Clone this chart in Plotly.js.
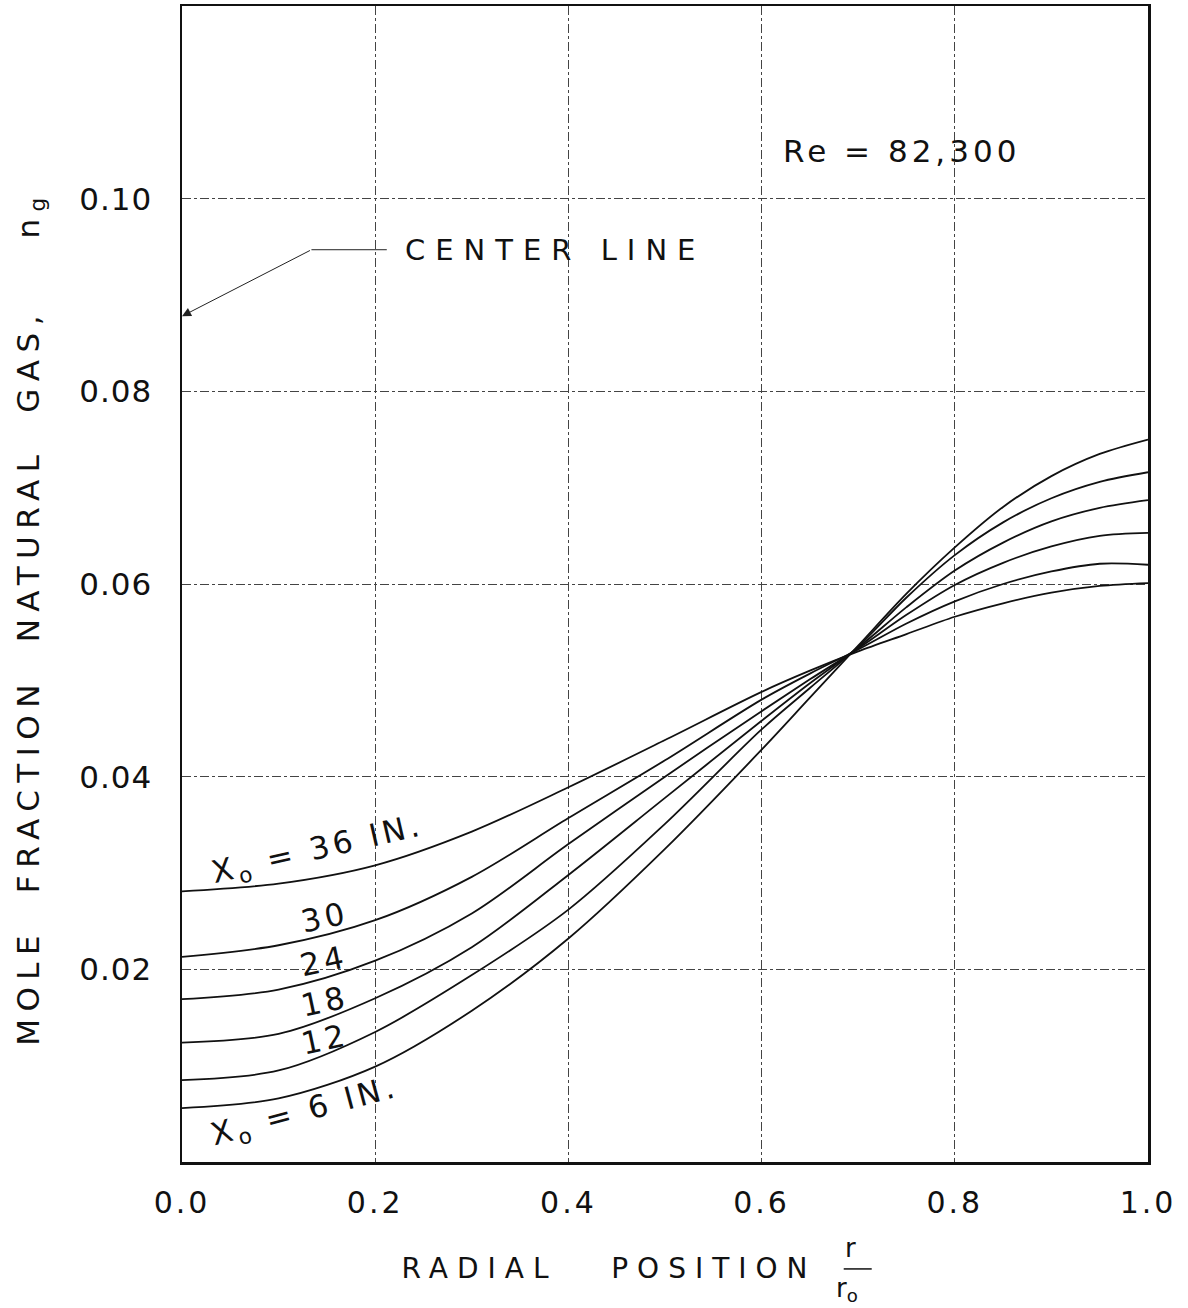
<!DOCTYPE html>
<html>
<head>
<meta charset="utf-8">
<script src="https://cdn.plot.ly/plotly-3.0.1.min.js"></script>
<style>
  html, body { margin: 0; padding: 0; background: #fff; }
  #chart { width: 1188px; height: 1308px; }
  .xtick text { letter-spacing: 3px; }
  .ytick text { letter-spacing: 1px; }
  g.g-xtitle { transform: translate(-56px, 0px); }
  g.g-ytitle { transform: translate(17px, 34px); }
</style>
</head>
<body>
<div id="chart"></div>
<script>
// Radial position r/r0
const radialPos = [0, 0.1, 0.2, 0.3, 0.4, 0.5, 0.6, 0.65, 0.7, 0.75, 0.8, 0.85, 0.9, 0.95, 1.0];
// Mole fraction natural gas for each downstream distance X0
const x0_36 = [0.0281, 0.0289, 0.0308, 0.0343, 0.0389, 0.0438, 0.0488, 0.0510, 0.0530, 0.0548, 0.0566, 0.0580, 0.0591, 0.0598, 0.0601];
const x0_30 = [0.0213, 0.0225, 0.0251, 0.0296, 0.0357, 0.0417, 0.0480, 0.0507, 0.0532, 0.0559, 0.0582, 0.0600, 0.0613, 0.0621, 0.0620];
const x0_24 = [0.0169, 0.0179, 0.0209, 0.0258, 0.0330, 0.0400, 0.0468, 0.0501, 0.0533, 0.0568, 0.0599, 0.0622, 0.0639, 0.0650, 0.0653];
const x0_18 = [0.0124, 0.0133, 0.0170, 0.0223, 0.0298, 0.0378, 0.0458, 0.0497, 0.0534, 0.0576, 0.0614, 0.0643, 0.0665, 0.0679, 0.0687];
const x0_12 = [0.0085, 0.0095, 0.0135, 0.0194, 0.0262, 0.0351, 0.0449, 0.0492, 0.0535, 0.0586, 0.0630, 0.0664, 0.0689, 0.0706, 0.0716];
const x0_6  = [0.0056, 0.0066, 0.0099, 0.0157, 0.0232, 0.0325, 0.0428, 0.0482, 0.0536, 0.0590, 0.0638, 0.0680, 0.0712, 0.0735, 0.0750];

const seriesList = [x0_36, x0_30, x0_24, x0_18, x0_12, x0_6];
const seriesNames = ['X0 = 36 in', 'X0 = 30 in', 'X0 = 24 in', 'X0 = 18 in', 'X0 = 12 in', 'X0 = 6 in'];

const xTickVals = [0, 0.2, 0.4, 0.6, 0.8, 1.0];
const xTickText = ['0.0', '0.2', '0.4', '0.6', '0.8', '1.0'];
const yTickVals = [0.02, 0.04, 0.06, 0.08, 0.10];
const yTickText = ['0.02', '0.04', '0.06', '0.08', '0.10'];

const FONT = 'DejaVu Sans, Liberation Sans, sans-serif';
const NB = '\u00A0';

const traces = seriesList.map((ys, i) => ({
  x: radialPos,
  y: ys,
  name: seriesNames[i],
  mode: 'lines',
  line: { shape: 'spline', smoothing: 0.9, color: '#111', width: 1.8 },
  showlegend: false,
  hoverinfo: 'x+y+name'
}));

const ls = (t, s) => '<span style="letter-spacing:' + s + 'px">' + t + '</span>';
const lblFont = { family: FONT, size: 31, color: '#111' };

const annotations = [
  { xref: 'x', yref: 'y', x: 0.745, y: 0.1049, text: ls('Re = 82,300', 4), showarrow: false,
    font: { family: FONT, size: 31, color: '#111' } },
  { xref: 'x', yref: 'y', x: 0.386, y: 0.0947, text: ls('CENTER' + NB + 'LINE', 10), showarrow: false,
    font: { family: FONT, size: 29, color: '#111' } },
  { xref: 'x', yref: 'y', x: 0.0, y: 0.0878, ax: 0.134, ay: 0.0947, axref: 'x', ayref: 'y',
    text: '', showarrow: true, arrowhead: 2, arrowsize: 1.8, arrowwidth: 1, arrowcolor: '#222' },
  { xref: 'x', yref: 'y', x: 0.141, y: 0.0323, text: ls('X<sub>o</sub> = 36 IN.', 4), showarrow: false, textangle: -13,
    font: lblFont },
  { xref: 'x', yref: 'y', x: 0.148, y: 0.0254, text: ls('30', 4), showarrow: false, textangle: -12, font: lblFont },
  { xref: 'x', yref: 'y', x: 0.146, y: 0.0209, text: ls('24', 4), showarrow: false, textangle: -12, font: lblFont },
  { xref: 'x', yref: 'y', x: 0.148, y: 0.0167, text: ls('18', 4), showarrow: false, textangle: -12, font: lblFont },
  { xref: 'x', yref: 'y', x: 0.148, y: 0.0128, text: ls('12', 4), showarrow: false, textangle: -12, font: lblFont },
  { xref: 'x', yref: 'y', x: 0.127, y: 0.0051, text: ls('X<sub>o</sub> = 6 IN.', 4), showarrow: false, textangle: -15,
    font: lblFont },
  // fraction r / r0 after the x-axis title
  { xref: 'paper', yref: 'paper', x: 0.700, y: -0.0895, yanchor: 'bottom', text: 'r', showarrow: false,
    font: { family: FONT, size: 26, color: '#111' } },
  { xref: 'paper', yref: 'paper', x: 0.702, y: -0.0945, yanchor: 'top', text: 'r<sub>o</sub>', showarrow: false,
    font: { family: FONT, size: 26, color: '#111' } }
];

const shapes = [
  { type: 'line', xref: 'x', yref: 'y', x0: 0.134, x1: 0.212, y0: 0.0947, y1: 0.0947,
    line: { color: '#222', width: 1 } },
  { type: 'line', xref: 'paper', yref: 'paper', x0: 0.685, x1: 0.714, y0: -0.0925, y1: -0.0925,
    line: { color: '#111', width: 1.5 } }
];

const layout = {
  width: 1188,
  height: 1308,
  margin: { l: 182, r: 40, t: 6, b: 146 },
  paper_bgcolor: '#fff',
  plot_bgcolor: '#fff',
  font: { family: FONT, color: '#111' },
  xaxis: {
    range: [0, 1],
    tickvals: xTickVals,
    ticktext: xTickText,
    ticks: '',
    ticklabelstandoff: 12,
    tickfont: { family: FONT, size: 30, color: '#111' },
    showline: true, linecolor: '#111', linewidth: 2.5, mirror: true,
    showgrid: true, gridcolor: '#444', gridwidth: 1, griddash: 'dashdot',
    zeroline: false,
    title: { text: ls('RADIAL' + NB + NB + NB + 'POSITION', 9), standoff: 40,
             font: { family: FONT, size: 28, color: '#111' } }
  },
  yaxis: {
    range: [0, 0.12],
    tickvals: yTickVals,
    ticktext: yTickText,
    ticks: '',
    ticklabelstandoff: 21,
    tickfont: { family: FONT, size: 31, color: '#111' },
    showline: true, linecolor: '#111', linewidth: 2.5, mirror: true,
    showgrid: true, gridcolor: '#444', gridwidth: 1, griddash: 'dashdot',
    zeroline: false,
    title: { text: ls('MOLE' + NB + NB + 'FRACTION' + NB + NB + 'NATURAL' + NB + NB + 'GAS,' + NB.repeat(4) + 'n<sub>g</sub>', 7.5),
             standoff: 48, font: { family: FONT, size: 31, color: '#111' } }
  },
  annotations: annotations,
  shapes: shapes
};

Plotly.newPlot('chart', traces, layout, { displayModeBar: false, staticPlot: true });
</script>
</body>
</html>
